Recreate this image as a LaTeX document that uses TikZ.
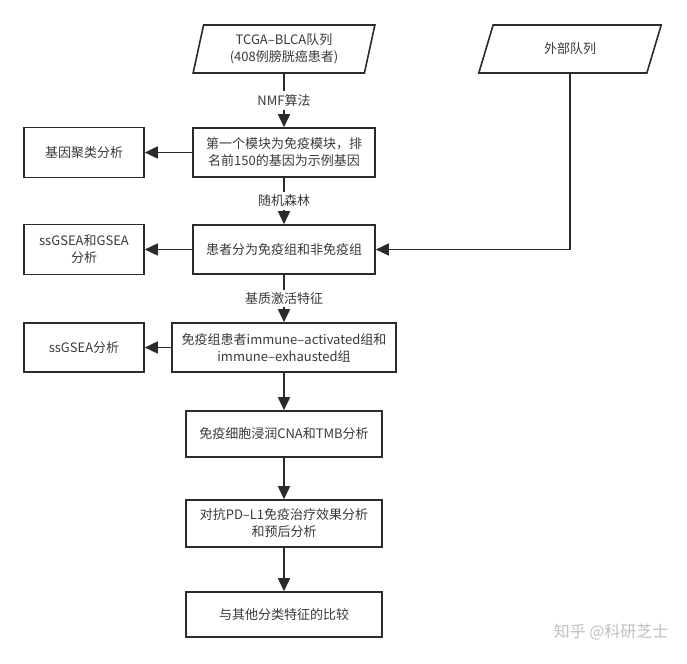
\documentclass[tikz,border=0pt]{standalone}
\usepackage{fontspec}
\setmainfont{Noto Sans CJK SC}
\usetikzlibrary{arrows.meta,shapes.geometric}
\definecolor{linegray}{HTML}{2B2B2B}
\definecolor{textgray}{HTML}{3A3A3A}
\tikzset{
    procbox/.style={draw=linegray, line width=1.6pt, fill=white, align=center,
        text=textgray, font=\fontsize{13}{17}\selectfont, inner sep=2pt},
    databox/.style={procbox, trapezium, trapezium stretches=true,
        trapezium left angle=78, trapezium right angle=102},
    flow/.style={draw=linegray, line width=1.6pt, -{Triangle[length=13pt,width=12pt]}},
    steplabel/.style={fill=white, text=textgray, font=\fontsize{13}{17}\selectfont, inner sep=3pt}
}
\begin{document}
\begin{tikzpicture}[x=1pt,y=-1pt]
    \useasboundingbox (0,0) rectangle (687,663);
    % main column
    \node[databox, minimum width=182pt, minimum height=48pt] (tcga) at (284,49)
        {TCGA--BLCA队列\\(408例膀胱癌患者)};
    \node[procbox, minimum width=182pt, minimum height=49pt] (module) at (284,152.5)
        {第一个模块为免疫模块，排\\名前150的基因为示例基因};
    \node[procbox, minimum width=182pt, minimum height=49pt] (group) at (284,249.5)
        {患者分为免疫组和非免疫组};
    \node[procbox, minimum width=224pt, minimum height=49pt] (subtype) at (284,347.5)
        {免疫组患者immune--activated组和\\immune--exhausted组};
    \node[procbox, minimum width=196pt, minimum height=46pt] (infil) at (284,434)
        {免疫细胞浸润CNA和TMB分析};
    \node[procbox, minimum width=196pt, minimum height=47pt] (response) at (284,523.5)
        {对抗PD--L1免疫治疗效果分析\\和预后分析};
    \node[procbox, minimum width=196pt, minimum height=45pt] (compare) at (284,614.5)
        {与其他分类特征的比较};
    % side boxes
    \node[procbox, minimum width=120pt, minimum height=50pt] (cluster) at (84,152.5)
        {基因聚类分析};
    \node[procbox, minimum width=120pt, minimum height=50pt] (gsea) at (84,249.5)
        {ssGSEA和GSEA\\分析};
    \node[procbox, minimum width=120pt, minimum height=49pt] (ssgsea) at (84,347.5)
        {ssGSEA分析};
    \node[databox, minimum width=183pt, minimum height=48pt,
        trapezium left angle=72, trapezium right angle=108] (external) at (570,49)
        {外部队列};
    % connectors
    \draw[flow] (tcga) -- node[steplabel]{NMF算法} (module);
    \draw[flow] (module) -- node[steplabel]{随机森林} (group);
    \draw[flow] (group) -- node[steplabel]{基质激活特征} (subtype);
    \draw[flow] (subtype) -- (infil);
    \draw[flow] (infil) -- (response);
    \draw[flow] (response) -- (compare);
    \draw[flow] (module) -- (cluster);
    \draw[flow] (group) -- (gsea);
    \draw[flow] (subtype) -- (ssgsea);
    \draw[flow] (external.south) |- (group.east);
    % watermark
    \node[text=black!25, font=\fontsize{16}{18}\selectfont, anchor=east] (mark) at (672,632)
        {知乎 @科研芝士};
\end{tikzpicture}
\end{document}
